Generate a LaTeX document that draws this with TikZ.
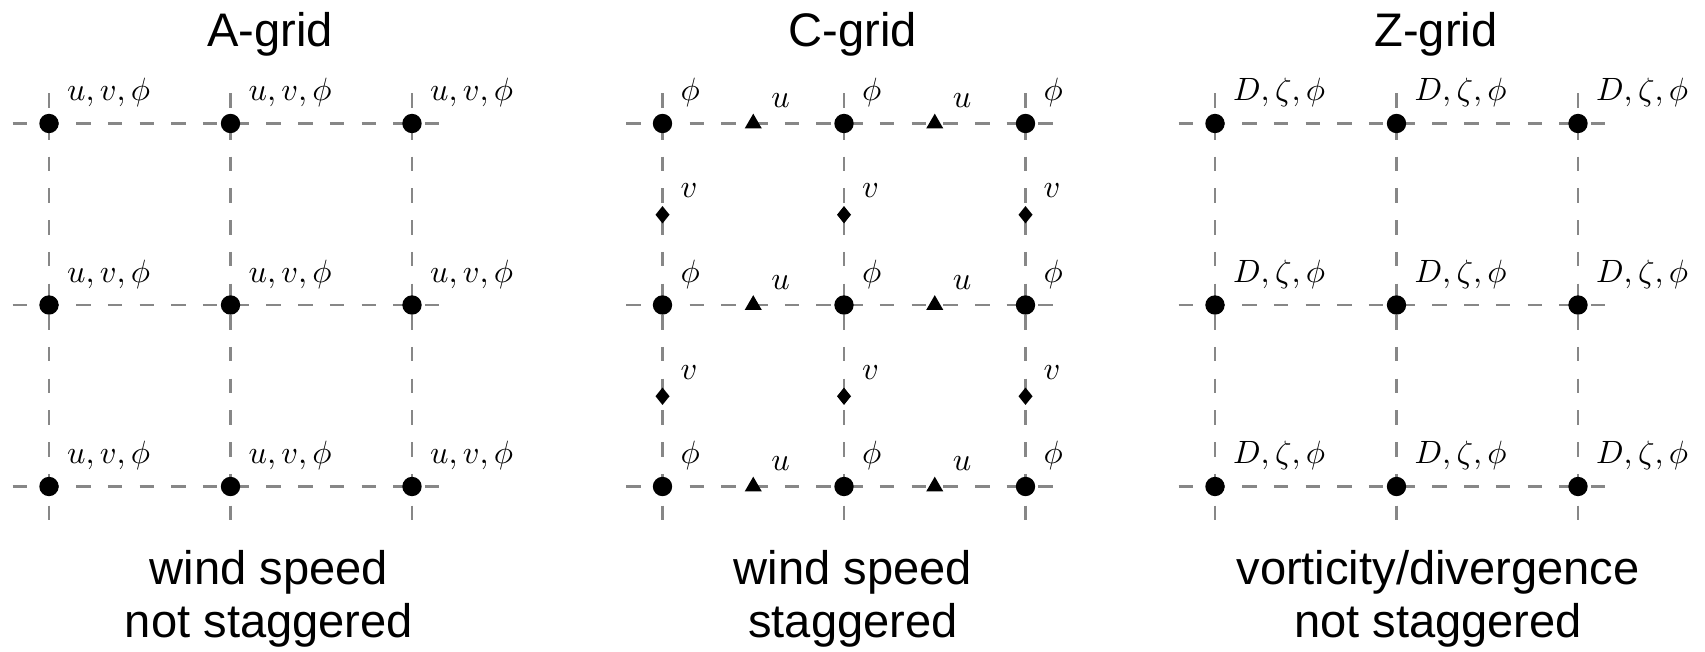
\documentclass[tikz,border=0pt]{standalone}
\usepackage{fontspec}
\setmainfont{Liberation Sans}
\usetikzlibrary{shapes.geometric,calc}
\begin{document}
\begin{tikzpicture}[x=0.31pt,y=-0.31pt,
  gridline/.style={draw=black!47, line width=0.65pt, dash pattern=on 4.5pt off 5.33pt},
  dot/.style={circle, fill=black, inner sep=0pt, minimum size=6pt},
  tri/.style={regular polygon, regular polygon sides=3, fill=black, inner sep=0pt, minimum size=6.1pt},
  diafill/.style={fill=black},
  lab/.style={anchor=south west, inner sep=0pt},
  title/.style={anchor=base, inner sep=0pt, font=\fontsize{14.6}{17}\selectfont}]
\useasboundingbox (0,0) rectangle (1705,652);
% grid lines
\foreach \g/\xo in {A/49,C/662.5,Z/1215}{
  \foreach \r in {0,1,2}{
    \coordinate (\g-h\r-w) at ({\xo-36.3},{123.5+181.5*\r});
    \coordinate (\g-h\r-e) at ({\xo+399.3},{123.5+181.5*\r});
    \draw[gridline] (\g-h\r-w) -- (\g-h\r-e);
  }
  \foreach \c in {0,1,2}{
    \coordinate (\g-v\c-n) at ({\xo+181.5*\c},93.3);
    \coordinate (\g-v\c-s) at ({\xo+181.5*\c},523);
    \draw[gridline] (\g-v\c-n) -- (\g-v\c-s);
  }
}
% A-grid
\foreach \c in {0,1,2}{
  \foreach \r in {0,1,2}{
    \node[dot] (A-\c-\r) at ({49+181.5*\c},{123.5+181.5*\r}) {};
    \node[lab] (A-\c-\r-l) at ($(A-\c-\r)+(17.5,-16)$) {$u,v,\phi$};
  }
}
% C-grid
\foreach \c in {0,1,2}{
  \foreach \r in {0,1,2}{
    \node[dot] (C-\c-\r) at ({662.5+181.5*\c},{123.5+181.5*\r}) {};
    \node[lab] (C-\c-\r-l) at ($(C-\c-\r)+(17.5,-16)$) {$\phi$};
  }
}
\foreach \c in {0,1}{
  \foreach \r in {0,1,2}{
    \node[tri] (Cu-\c-\r) at ({753.25+181.5*\c},{123.5+181.5*\r}) {};
    \node[lab] (Cu-\c-\r-l) at ($(Cu-\c-\r)+(17.5,-15)$) {$u$};
  }
}
\foreach \c in {0,1,2}{
  \foreach \r in {0,1}{
    \coordinate (Cv-\c-\r) at ({662.5+181.5*\c},{214.75+181.5*\r});
    \fill[diafill] ($(Cv-\c-\r)+(0,-8.7)$) -- ($(Cv-\c-\r)+(7,0)$)
      -- ($(Cv-\c-\r)+(0,8.7)$) -- ($(Cv-\c-\r)+(-7,0)$) -- cycle;
    \node[lab] (Cv-\c-\r-l) at ($(Cv-\c-\r)+(17.5,-16.5)$) {$v$};
  }
}
% Z-grid
\foreach \c in {0,1,2}{
  \foreach \r in {0,1,2}{
    \node[dot] (Z-\c-\r) at ({1215+181.5*\c},{123.5+181.5*\r}) {};
    \node[lab] (Z-\c-\r-l) at ($(Z-\c-\r)+(17.5,-16)$) {$D,\zeta,\phi$};
  }
}
% titles and captions
\node[title] (A-title) at (270,46.7) {A-grid};
\node[title] (C-title) at (853,46.7) {C-grid};
\node[title] (Z-title) at (1436,46.7) {Z-grid};
\node[title] (A-cap1) at (269,584) {wind speed};
\node[title] (A-cap2) at (269,638) {not staggered};
\node[title] (C-cap1) at (853,584) {wind speed};
\node[title] (C-cap2) at (853,638) {staggered};
\node[title] (Z-cap1) at (1438,584) {vorticity/divergence};
\node[title] (Z-cap2) at (1438,638) {not staggered};
\end{tikzpicture}
\end{document}
